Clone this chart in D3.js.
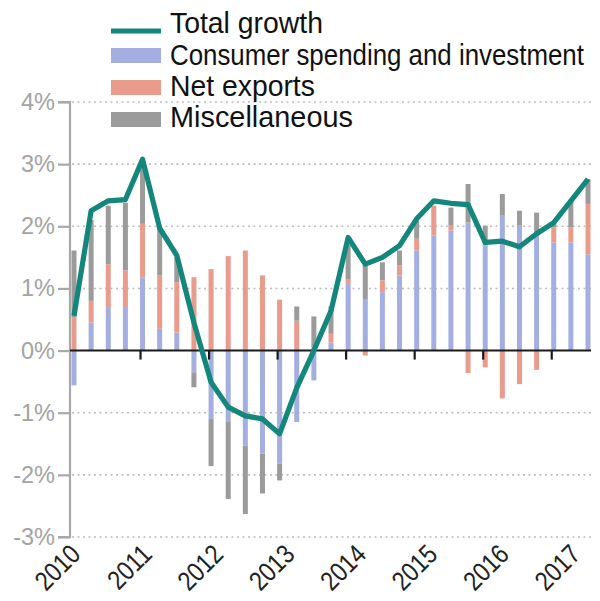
<!DOCTYPE html>
<html>
<head>
<meta charset="utf-8">
<script src="https://cdn.jsdelivr.net/npm/d3@7/dist/d3.min.js"></script>
<style>
  html, body { margin: 0; padding: 0; background: #fff; }
  svg { display: block; }
</style>
</head>
<body>
<svg id="chart" width="600" height="601"></svg>
<script>
// ---- data (percent) ----
const quarters = [
  "2010Q1","2010Q2","2010Q3","2010Q4",
  "2011Q1","2011Q2","2011Q3","2011Q4",
  "2012Q1","2012Q2","2012Q3","2012Q4",
  "2013Q1","2013Q2","2013Q3","2013Q4",
  "2014Q1","2014Q2","2014Q3","2014Q4",
  "2015Q1","2015Q2","2015Q3","2015Q4",
  "2016Q1","2016Q2","2016Q3","2016Q4",
  "2017Q1","2017Q2","2017Q3"
];
const consumer = [-0.56, 0.45, 0.70, 0.70, 1.18, 0.35, 0.29, -0.35, -1.10, -1.15, -1.53, -1.66, -1.82, -1.15, -0.48, 0.13,
                  1.07, 0.83, 0.94, 1.21, 1.61, 1.85, 1.93, 2.06, 1.69, 2.17, 2.01, 1.88, 1.74, 1.74, 1.55];
const netExports = [0.54, 0.35, 0.69, 0.59, 0.86, 0.86, 0.81, 1.18, 1.31, 1.52, 1.61, 1.21, 0.82, 0.48, 0.05, 0.14,
                    0.08, -0.08, 0.19, 0.16, 0.19, 0.48, 0.08, -0.36, -0.27, -0.77, -0.54, -0.31, 0.24, 0.24, 0.81];
const misc = [1.07, 1.30, 0.94, 1.09, 0.93, 0.77, 0.40, -0.24, -0.76, -1.24, -1.10, -0.64, -0.27, 0.23, 0.50, 0.44,
              0.55, 0.56, 0.29, 0.24, 0.29, 0.00, 0.29, 0.62, 0.32, 0.35, 0.24, 0.34, 0.07, 0.43, 0.40];
const totalGrowth = [0.56, 2.25, 2.41, 2.43, 3.08, 1.97, 1.53, 0.45, -0.51, -0.91, -1.05, -1.10, -1.34, -0.60, 0.00, 0.64,
                     1.82, 1.39, 1.50, 1.69, 2.12, 2.41, 2.37, 2.35, 1.74, 1.76, 1.67, 1.88, 2.06, 2.41, 2.76];
const yTicks = [-3, -2, -1, 0, 1, 2, 3, 4];
const yearLabels = ["2010","2011","2012","2013","2014","2015","2016","2017"];
const legendItems = ["Total growth", "Consumer spending and investment", "Net exports", "Miscellaneous"];

// ---- styles ----
const colors = { consumer: "#a5aee0", net: "#e99b8c", misc: "#9b9b9b", total: "#14877c" };
const FONT = "'Liberation Sans', Arial, sans-serif";
const svg = d3.select("#chart");

const x = d3.scalePoint().domain(quarters).range([74, 588]);
const y = d3.scaleLinear().domain([-3, 4]).range([537, 102]);
const xLabel = d3.scalePoint().domain(yearLabels).range([82, 582]);
const barW = 5;

// gridlines
svg.append("g").selectAll("line")
  .data(yTicks.filter(t => t !== 0))
  .join("line")
  .attr("x1", 72).attr("x2", 591)
  .attr("y1", d => y(d)).attr("y2", d => y(d))
  .attr("stroke", "#bdbdbd").attr("stroke-width", 1.6)
  .attr("stroke-dasharray", "2,3.5");

// y axis
const yAxis = d3.axisLeft(y).tickValues(yTicks).tickSize(12).tickPadding(3)
  .tickFormat(d => d + "%");
const gy = svg.append("g").attr("transform", "translate(70,0)").call(yAxis);
gy.select(".domain").attr("stroke", "#a8a8a8").attr("stroke-width", 2.2)
  .attr("d", `M-12,${y(4)}H0V${y(-3)}H-12`);
gy.selectAll(".tick line").attr("stroke", "#a8a8a8").attr("stroke-width", 2.2);
gy.selectAll(".tick text")
  .attr("fill", "#a3a3a3")
  .style("font-family", FONT)
  .style("font-size", "23.5px");

// stacked bars
const rows = quarters.map((q, i) => ({ q, consumer: consumer[i], net: netExports[i], misc: misc[i] }));
const keys = ["consumer", "net", "misc"];
const stack = d3.stack().keys(keys).offset(d3.stackOffsetDiverging);
const series = stack(rows);
svg.append("g").selectAll("g")
  .data(series)
  .join("g")
  .attr("fill", d => colors[d.key])
  .selectAll("rect")
  .data(d => d)
  .join("rect")
  .attr("x", d => x(d.data.q) - barW / 2)
  .attr("width", barW)
  .attr("y", d => y(Math.max(d[0], d[1])))
  .attr("height", d => Math.abs(y(d[0]) - y(d[1])));

// zero axis line with year ticks
svg.append("line")
  .attr("x1", 70).attr("x2", 591)
  .attr("y1", y(0)).attr("y2", y(0))
  .attr("stroke", "#1a1a1a").attr("stroke-width", 2);
const yearQ = yearLabels.map(yr => yr + "Q1");
svg.append("g").selectAll("line")
  .data(yearQ.slice(1))
  .join("line")
  .attr("x1", d => x(d) - 2).attr("x2", d => x(d) - 2)
  .attr("y1", y(0)).attr("y2", y(0) + 9)
  .attr("stroke", "#1a1a1a").attr("stroke-width", 2.2);

// total growth line
const line = d3.line().x((d, i) => x(quarters[i])).y(d => y(d));
svg.append("path")
  .datum(totalGrowth)
  .attr("d", line)
  .attr("fill", "none")
  .attr("stroke", colors.total)
  .attr("stroke-width", 5.2)
  .attr("stroke-linejoin", "round");

// year labels (condensed by horizontal scaling)
svg.append("g").selectAll("text")
  .data(yearLabels)
  .join("text")
  .attr("transform", d => `translate(${xLabel(d)},556) rotate(-45) scale(0.85,1)`)
  .attr("text-anchor", "end")
  .attr("fill", "#222")
  .style("font-family", FONT)
  .style("font-size", "27px")
  .text(d => d);

// legend
const lg = svg.append("g");
const lgRows = [
  { label: legendItems[0], type: "line", color: colors.total, cy: 31, base: 33, w: 153 },
  { label: legendItems[1], type: "rect", color: colors.consumer, cy: 55.5, base: 65, w: 414 },
  { label: legendItems[2], type: "rect", color: colors.net, cy: 87.5, base: 96, w: 145 },
  { label: legendItems[3], type: "rect", color: colors.misc, cy: 119.5, base: 127, w: 183 }
];
lgRows.forEach(r => {
  if (r.type === "line") {
    lg.append("rect").attr("x", 111).attr("y", r.cy - 2.5).attr("width", 50).attr("height", 5).attr("fill", r.color);
  } else {
    lg.append("rect").attr("x", 111).attr("y", r.cy - 7.5).attr("width", 50).attr("height", 15).attr("fill", r.color);
  }
  const t = lg.append("text")
    .attr("x", 0).attr("y", 0)
    .attr("fill", "#111")
    .style("font-family", FONT)
    .style("font-size", "30px")
    .text(r.label);
  const len = t.node().getComputedTextLength();
  const sx = len > 0 ? r.w / len : 1;
  t.attr("transform", `translate(170,${r.base}) scale(${sx},1)`);
});
</script>
</body>
</html>
